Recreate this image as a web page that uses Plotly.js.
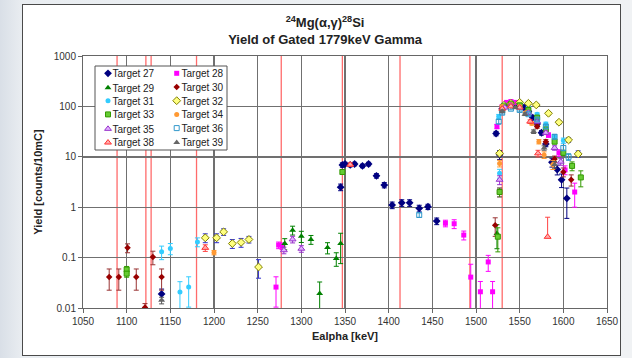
<!DOCTYPE html>
<html>
<head>
<meta charset="utf-8">
<script src="https://cdn.plot.ly/plotly-3.0.1.min.js"></script>
<style>
html,body{margin:0;padding:0;width:632px;height:358px;overflow:hidden;
  background:linear-gradient(90deg,#d9dfe7 0px,#e9edf1 22px,#f0f2f4 100%);}
#frame{position:absolute;left:22px;top:4px;width:597px;height:350px;border:1px solid #4a4a4a;background:#fff;}
#chart{width:597px;height:350px;}
</style>
</head>
<body>
<div id="frame"><div id="chart"></div></div>
<script>
// Resonance energies (red vertical markers), keV
const resonances = [1089, 1122, 1128, 1180, 1277, 1347, 1413, 1493, 1530];

// Series: x = Ealpha [keV], y = yield [counts/10mC], e = relative error
const x27 = [1140, 1345, 1347, 1350, 1356, 1361, 1370, 1377, 1386, 1395, 1404, 1415, 1424, 1435, 1445, 1455, 1523, 1527, 1530, 1535, 1540, 1545, 1550, 1555, 1560, 1565, 1570, 1575, 1580, 1587, 1593, 1598, 1604];
const y27 = [0.019, 2.5, 6.9, 7.2, 6.9, 7.2, 6.6, 7.2, 4.2, 2.75, 1.1, 1.22, 1.22, 0.95, 1.02, 0.53, 29, 11, 90, 110, 115, 110, 100, 95, 80, 60, 45, 30, 18, 7.8, 5.6, 3.5, 1.5];
const e27 = [0.25, 0.15, 0.1, 0.08, 0.08, 0.08, 0.08, 0.08, 0.1, 0.12, 0.15, 0.15, 0.15, 0.15, 0.12, 0.15, 0.1, 0.2, 0.06, 0.05, 0.05, 0.05, 0.05, 0.05, 0.06, 0.07, 0.08, 0.1, 0.12, 0.2, 0.22, 0.3, 0.6];

const x28 = [1271, 1274, 1278, 1465, 1475, 1486, 1494, 1505, 1514, 1519, 1524, 1527, 1530, 1535, 1540, 1545, 1550, 1560, 1570, 1583, 1595, 1602, 1613];
const y28 = [0.026, 0.177, 0.17, 0.48, 0.47, 0.28, 0.041, 0.021, 0.082, 0.021, 40, 2.0, 100, 120, 125, 120, 110, 90, 55, 27, 12, 5.5, 2.0];
const e28 = [0.6, 0.15, 0.15, 0.15, 0.2, 0.2, 0.8, 0.6, 0.35, 0.6, 0.1, 0.2, 0.05, 0.05, 0.05, 0.05, 0.05, 0.06, 0.08, 0.1, 0.15, 0.2, 0.5];

const x29 = [1281, 1290, 1300, 1311, 1321, 1330, 1340, 1345, 1524, 1530, 1540, 1550, 1560];
const y29 = [0.19, 0.35, 0.266, 0.229, 0.0193, 0.158, 0.096, 0.19, 0.3, 85, 110, 100, 80];
const e29 = [0.25, 0.2, 0.25, 0.2, 0.7, 0.25, 0.3, 0.6, 0.5, 0.06, 0.05, 0.05, 0.06];

const x30 = [1080, 1091, 1101, 1111, 1121, 1130, 1140, 1522, 1530, 1540, 1550, 1560, 1570, 1580, 1590, 1600, 1609];
const y30 = [0.041, 0.041, 0.156, 0.041, 0.0102, 0.103, 0.041, 0.44, 85, 105, 100, 75, 40, 20, 9, 5, 3.5];
const e30 = [0.45, 0.45, 0.2, 0.45, 0.2, 0.3, 0.45, 0.4, 0.06, 0.05, 0.05, 0.06, 0.08, 0.1, 0.15, 0.2, 0.25];

const x31 = [1140, 1150, 1161, 1171, 1181, 1526, 1527, 1532, 1540, 1550, 1560, 1570, 1580, 1590, 1600];
const y31 = [0.13, 0.152, 0.0208, 0.026, 0.205, 63, 4.7, 110, 120, 115, 95, 70, 45, 25, 21];
const e31 = [0.3, 0.25, 0.6, 0.6, 0.2, 0.1, 0.2, 0.05, 0.05, 0.05, 0.05, 0.06, 0.08, 0.1, 0.12];

const x32 = [1190, 1203, 1211, 1221, 1231, 1240, 1251, 1527, 1532, 1540, 1550, 1560, 1569, 1583, 1595, 1606, 1617];
const y32 = [0.247, 0.247, 0.324, 0.19, 0.2, 0.229, 0.065, 11.7, 105, 115, 120, 115, 107, 73, 48.5, 21.6, 11.4];
const e32 = [0.2, 0.2, 0.15, 0.2, 0.2, 0.15, 0.4, 0.1, 0.05, 0.05, 0.05, 0.05, 0.06, 0.07, 0.08, 0.1, 0.15];

const x33 = [1100, 1100, 1347, 1525, 1527, 1532, 1540, 1550, 1560, 1570, 1580, 1590, 1600, 1610, 1620];
const y33 = [0.058, 0.048, 5.0, 0.26, 2.0, 100, 110, 105, 85, 60, 35, 20, 12, 6.6, 3.9];
const e33 = [0.15, 0.15, 0.1, 0.5, 0.2, 0.05, 0.05, 0.05, 0.06, 0.07, 0.08, 0.1, 0.12, 0.2, 0.35];

const x34 = [1200, 1527, 1530, 1540, 1550, 1557, 1564, 1572, 1578, 1588];
const y34 = [0.126, 7.4, 100, 110, 100, 75, 46, 20, 10.9, 7];
const e34 = [0.1, 0.15, 0.05, 0.05, 0.05, 0.06, 0.07, 0.1, 0.15, 0.2];

const x35 = [1280, 1290, 1300, 1527, 1533, 1540, 1550, 1560, 1570, 1580, 1590, 1597];
const y35 = [0.14, 0.23, 0.15, 3.5, 95, 105, 95, 75, 50, 30, 15, 8];
const e35 = [0.15, 0.15, 0.15, 0.2, 0.05, 0.05, 0.05, 0.06, 0.07, 0.08, 0.1, 0.15];

const x36 = [1435, 1526, 1530, 1540, 1550, 1560, 1570, 1580, 1590, 1600, 1606];
const y36 = [0.70, 50, 75, 90, 85, 70, 55, 40, 25, 15, 10];
const e36 = [0.1, 0.1, 0.06, 0.05, 0.05, 0.06, 0.07, 0.08, 0.1, 0.12, 0.15];

const x38 = [1190, 1356, 1530, 1540, 1550, 1562, 1571, 1582];
const y38 = [0.156, 7.0, 90, 100, 95, 50, 11.7, 0.258];
const e38 = [0.15, 0.08, 0.05, 0.05, 0.05, 0.08, 0.15, 1.45];
const eLo38 = [0.15, 0.08, 0.05, 0.05, 0.05, 0.08, 0.15, 0];

const x39 = [1140, 1530, 1545, 1556, 1566, 1578, 1590];
const y39 = [0.0142, 80, 95, 70, 31.6, 15, 7];
const e39 = [0.15, 0.06, 0.05, 0.06, 0.08, 0.1, 0.15];

const yTickVals = [0.01, 0.1, 1, 10, 100, 1000];
const yTickText = ['0.01', '0.1', '1', '10', '100', '1000'];

// legend layout: two columns, row order
const legendCol1 = ['Target 27', 'Target 29', 'Target 31', 'Target 33', 'Target 35', 'Target 38'];
const legendCol2 = ['Target 28', 'Target 30', 'Target 32', 'Target 34', 'Target 36', 'Target 39'];

function errs(y, e) { return y.map((v, i) => v * e[i]); }
function mk(name, x, y, e, eLo, st, legend) {
  return {
    type: 'scatter', mode: 'markers', name: name, x: x, y: y, legend: legend,
    marker: {symbol: st.symbol, size: st.size, color: st.fill,
             line: {color: st.line, width: st.lw}},
    error_y: {type: 'data', symmetric: false, array: errs(y, e), arrayminus: errs(y, eLo || e),
              color: st.err, thickness: 1, width: 2.5}
  };
}

const data = [
  mk('Target 27', x27, y27, e27, null, {symbol:'diamond', size:6, fill:'#000080', line:'#000080', lw:0, err:'#000080'}, 'legend'),
  mk('Target 28', x28, y28, e28, null, {symbol:'square', size:5, fill:'#ff00ff', line:'#ff00ff', lw:0, err:'#ff00ff'}, 'legend2'),
  mk('Target 29', x29, y29, e29, null, {symbol:'triangle-up', size:6, fill:'#008000', line:'#008000', lw:0, err:'#008000'}, 'legend'),
  mk('Target 30', x30, y30, e30, null, {symbol:'diamond', size:5, fill:'#990000', line:'#990000', lw:0, err:'#993333'}, 'legend2'),
  mk('Target 31', x31, y31, e31, null, {symbol:'circle', size:5, fill:'#33ccff', line:'#33ccff', lw:0, err:'#33ccff'}, 'legend'),
  mk('Target 32', x32, y32, e32, null, {symbol:'diamond', size:6, fill:'#ffff80', line:'#808000', lw:1, err:'#3333cc'}, 'legend2'),
  mk('Target 33', x33, y33, e33, null, {symbol:'square', size:5, fill:'#66cc33', line:'#339900', lw:1, err:'#339900'}, 'legend'),
  mk('Target 34', x34, y34, e34, null, {symbol:'circle', size:5, fill:'#ff9933', line:'#ff9933', lw:0, err:'#ff9933'}, 'legend2'),
  mk('Target 35', x35, y35, e35, null, {symbol:'triangle-up', size:6, fill:'#e0b0ff', line:'#9933cc', lw:1, err:'#9933cc'}, 'legend'),
  mk('Target 36', x36, y36, e36, null, {symbol:'square-open', size:5, fill:'#3399cc', line:'#3399cc', lw:1, err:'#3399cc'}, 'legend2'),
  mk('Target 38', x38, y38, e38, eLo38, {symbol:'triangle-up', size:6, fill:'#ffaaaa', line:'#ff3333', lw:1, err:'#ff4444'}, 'legend'),
  mk('Target 39', x39, y39, e39, null, {symbol:'triangle-up', size:6, fill:'#666666', line:'#666666', lw:0, err:'#555555'}, 'legend2')
];

const shapes = resonances.map(e => ({type:'line', xref:'x', yref:'paper', x0:e, x1:e, y0:0, y1:1,
  line:{color:'#ff6b6b', width:1.3}, layer:'below'}));
// legend frame
shapes.push({type:'rect', xref:'paper', yref:'paper', x0:(95-83)/524, x1:(227-83)/524,
  y0:1-(150-56)/252, y1:1-(66-56)/252, fillcolor:'#ffffff', line:{color:'#555555', width:1}, layer:'above'});

const FONT = 'Liberation Sans, Arial, sans-serif';
const legendCommon = {bgcolor:'rgba(0,0,0,0)', borderwidth:0, orientation:'v', xanchor:'left', yanchor:'top',
  font:{family:FONT, size:10, color:'#222'}, y:0.96};

const layout = {
  width:597, height:350,
  margin:{l:60, r:13, t:51, b:47},
  paper_bgcolor:'#ffffff', plot_bgcolor:'#ffffff',
  font:{family:FONT, size:10, color:'#333'},
  title:{text:'<sup>24</sup>Mg(α,γ)<sup>28</sup>Si<br>Yield of Gated 1779keV Gamma',
    x:0.506, xref:'container', xanchor:'center', y:0.936, yref:'container', yanchor:'top',
    font:{family:FONT, size:13, color:'#222', weight:'bold'}},
  xaxis:{range:[1050,1650], tick0:1050, dtick:50, showgrid:true, gridcolor:'#707070', gridwidth:1.4,
    showline:true, linecolor:'#666', linewidth:1, mirror:true, ticks:'outside', ticklen:4, tickcolor:'#666',
    zeroline:false, tickfont:{family:FONT, size:10, color:'#333'},
    title:{text:'Ealpha [keV]', font:{family:FONT, size:11, color:'#222', weight:'bold'}, standoff:6}},
  yaxis:{type:'log', range:[-2,3], tickvals:yTickVals, ticktext:yTickText, showgrid:true, gridcolor:'#707070', gridwidth:1.4,
    showline:true, linecolor:'#666', linewidth:1, mirror:true, ticks:'outside', ticklen:4, tickcolor:'#666',
    zeroline:false, tickfont:{family:FONT, size:10, color:'#333'},
    title:{text:'Yield [counts/10mC]', font:{family:FONT, size:11, color:'#222', weight:'bold'}, standoff:8}},
  legend: Object.assign({x:0.03}, legendCommon),
  legend2: Object.assign({x:0.17}, legendCommon),
  shapes: shapes,
  showlegend:true
};

function parseT(t) {
  const m = /translate\(\s*([-\d.e]+)[ ,]+([-\d.e]+)\s*\)/.exec(t || '');
  return m ? [parseFloat(m[1]), parseFloat(m[2])] : [0, 0];
}
// place each legend entry (symbol centre, text left, row centre) in page pixels
function placeEntry(it, symX, txtX, rowY) {
  const pts = it.querySelector('g.legendpoints');
  if (pts) {
    const r = pts.getBoundingClientRect();
    if (r.width > 0) {
      const cx = r.left + r.width / 2, cy = r.top + r.height / 2;
      const pt = parseT(pts.getAttribute('transform'));
      if (Math.abs(symX - cx) > 0.3) pts.setAttribute('transform', 'translate(' + (pt[0] + symX - cx) + ',' + pt[1] + ')');
      if (Math.abs(rowY - cy) > 0.3) {
        const it0 = parseT(it.getAttribute('transform'));
        it.setAttribute('transform', 'translate(' + it0[0] + ',' + (it0[1] + (rowY - cy)) + ')');
      }
    }
  }
  const txt = it.querySelector('text');
  if (txt) {
    const tr = txt.getBoundingClientRect();
    if (tr.width > 0 && Math.abs(txtX - tr.left) > 0.3)
      txt.setAttribute('x', parseFloat(txt.getAttribute('x') || 0) + (txtX - tr.left));
  }
}
function fixLegends() {
  document.querySelectorAll('#chart g.traces').forEach(it => {
    const d = it.__data__;
    const tr = d && d[0] && d[0].trace;
    if (!tr) return;
    let i = legendCol1.indexOf(tr.name);
    if (i >= 0) { placeEntry(it, 108, 112.5, 73.3 + i * 13.7); return; }
    i = legendCol2.indexOf(tr.name);
    if (i >= 0) { placeEntry(it, 176.7, 181.5, 73.3 + i * 13.7); }
  });
}

const chartEl = document.getElementById('chart');
let pending = false;
const obs = new MutationObserver(() => {
  if (pending) return;
  pending = true;
  requestAnimationFrame(() => { pending = false; fixLegends(); });
});
obs.observe(chartEl, {childList: true, subtree: true});

Plotly.newPlot('chart', data, layout, {displayModeBar:false, staticPlot:true}).then(() => {
  fixLegends();
  [30, 100, 300, 800].forEach(t => setTimeout(fixLegends, t));
});
</script>
</body>
</html>
